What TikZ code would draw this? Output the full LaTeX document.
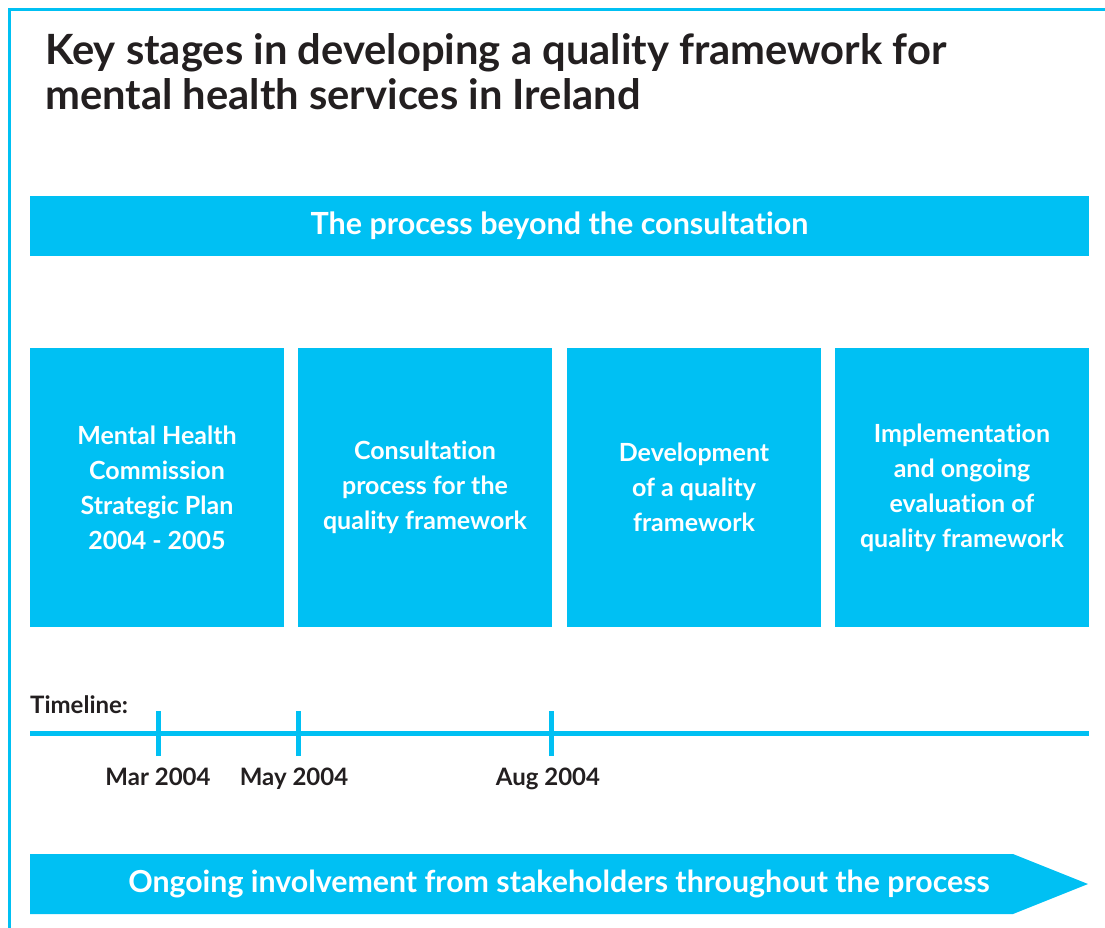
\documentclass[tikz,border=0pt]{standalone}
\usepackage{fontspec}
\setmainfont{Lato}[Ligatures={NoCommon,NoContextual}, Contextuals=NoAlternate]
\usepackage{xcolor}
\definecolor{procblue}{HTML}{00C0F3}
\definecolor{inkdark}{HTML}{231F20}
\tikzstyle{stage} = [fill=procblue, minimum width=254pt, minimum height=279pt, inner sep=0pt,
    text=white, align=center, font=\bfseries\fontsize{25}{35}\selectfont]
\tikzset{bar/.style={fill=procblue, inner sep=0pt, text=white},
    tline/.style={draw=procblue, line width=5pt},
    datelabel/.style={anchor=base, text=inkdark, font=\bfseries\fontsize{24}{26}\selectfont}}

\begin{document}
\begin{tikzpicture}[x=1pt, y=-1pt]
    \useasboundingbox (0,0) rectangle (1105,928);
    \clip (0,0) rectangle (1105,928);
    % Frame of the page
    \draw[procblue, line width=3pt] (9.5,940) -- (9.5,9.5) -- (1120,9.5);
    %
    \node[anchor=north west, inner sep=0pt, align=left, text=inkdark,
        font=\bfseries\fontsize{41.7}{45}\selectfont] (title) at (45,33)
        {Key stages in developing a quality framework for\\mental health services in Ireland};
    \node[bar, minimum width=1059pt, minimum height=60pt,
        font=\bfseries\fontsize{30.5}{32}\selectfont] (beyond) at (559.5,226)
        {The process beyond the consultation};
    % Definition of stages
    \node[stage] (plan) at (157,487.5) {Mental Health\\Commission\\Strategic Plan\\2004 - 2005};
    \node[stage] (consult) at (425,487.5) {Consultation\\process for the\\quality framework};
    \node[stage] (develop) at (694,487.5) {Development\\of a quality\\framework};
    \node[stage] (implement) at (962,487.5) {Implementation\\and ongoing\\evaluation of\\quality framework};
    % Timeline
    \node[anchor=base west, inner sep=0pt, text=inkdark,
        font=\bfseries\fontsize{24}{26}\selectfont] (tllabel) at (30,713) {Timeline:};
    \coordinate (tlstart) at (30,733.5);
    \coordinate (tlend) at (1089,733.5);
    \draw[tline] (tlstart) -- (tlend);
    \foreach \tx/\lx/\lab [count=\i] in {158/158/Mar 2004, 298/294/May 2004, 551/548/Aug 2004} {
        \coordinate (tick\i) at (\tx,733.5);
        \draw[tline] ([yshift=-22.5pt]tick\i) -- ([yshift=22.5pt]tick\i);
        \node[datelabel] (date\i) at (\lx,785) {\lab};
    }
    % Stakeholder arrow
    \fill[procblue] (30,854) -- (1013,854) -- (1088,884) -- (1013,914) -- (30,914) -- cycle;
    \node[text=white, inner sep=0pt, font=\bfseries\fontsize{30.3}{32}\selectfont]
        (stakeholders) at (559,884) {Ongoing involvement from stakeholders throughout the process};
\end{tikzpicture}
\end{document}
